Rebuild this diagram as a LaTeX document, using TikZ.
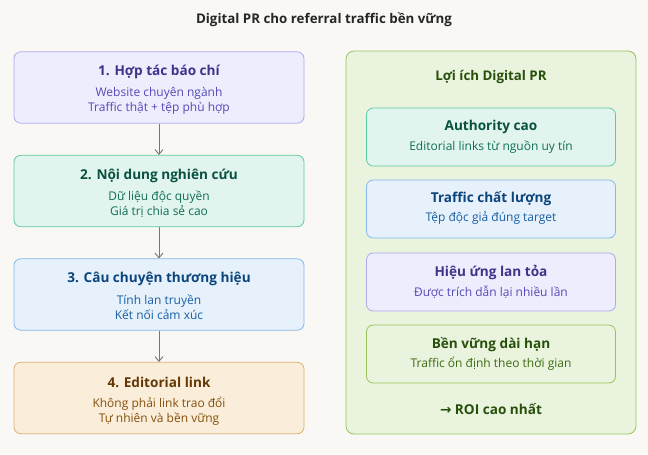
\documentclass[tikz,border=0pt]{standalone}
\usepackage{fontspec}
\setmainfont{Open Sans}
\newfontfamily\arrowfont{DejaVu Sans}
\usetikzlibrary{arrows.meta}
\definecolor{bg}{HTML}{F9F8F5}
\definecolor{pfill}{HTML}{EEEDFE}\definecolor{pdraw}{HTML}{AFA9EC}\definecolor{ptit}{HTML}{3C3489}\definecolor{psub}{HTML}{534AB7}
\definecolor{tfill}{HTML}{E1F5EE}\definecolor{tdraw}{HTML}{5DCAA5}\definecolor{ttit}{HTML}{085041}\definecolor{tsub}{HTML}{0F6E56}
\definecolor{bfill}{HTML}{E6F1FB}\definecolor{bdraw}{HTML}{85B7EB}\definecolor{btit}{HTML}{0C447C}\definecolor{bsub}{HTML}{185FA5}
\definecolor{ofill}{HTML}{FAEEDA}\definecolor{odraw}{HTML}{E0B070}\definecolor{otit}{HTML}{633806}\definecolor{osub}{HTML}{854F0B}
\definecolor{gfill}{HTML}{EAF3DE}\definecolor{gdraw}{HTML}{97C459}\definecolor{gtit}{HTML}{27500A}\definecolor{gsub}{HTML}{3B6D11}
\definecolor{arr}{HTML}{777777}
\tikzset{
  box/.style={rounded corners=5pt, line width=0.6pt, inner sep=0pt},
  lbox/.style={box, minimum width=217.5pt, minimum height=53.5pt},
  rbox/.style={box, minimum width=186.75pt, minimum height=43.5pt},
  tit/.style={font=\fontsize{10.2}{13}\selectfont\bfseries, inner sep=0pt},
  rtit/.style={font=\fontsize{10.2}{12.5}\selectfont\bfseries, inner sep=0pt},
  sub/.style={font=\fontsize{9}{11.25}\selectfont, align=center, inner sep=0pt},
  flow/.style={arr, line width=0.7pt, -{Straight Barb[length=3.5pt,width=6pt]}}
}
\begin{document}
\begin{tikzpicture}[x=0.75pt,y=-0.75pt]
\fill[bg] (0,0) rectangle (648,454);
\useasboundingbox (0,0) rectangle (648,454);
\node[font=\fontsize{10}{12}\selectfont\bfseries, text=black!85] (title) at (324,20) {Digital PR cho referral traffic bền vững};

% left column
\node[lbox, fill=pfill, draw=pdraw] (b1) at (159,87.5) {};
\node[tit, text=ptit] (b1t) at (159,72) {1. Hợp tác báo chí};
\node[sub, text=psub] (b1s) at (159,100.5) {Website chuyên ngành\\Traffic thật + tệp phù hợp};

\node[lbox, fill=tfill, draw=tdraw] (b2) at (159,191) {};
\node[tit, text=ttit] (b2t) at (159,175.5) {2. Nội dung nghiên cứu};
\node[sub, text=tsub] (b2s) at (159,204) {Dữ liệu độc quyền\\Giá trị chia sẻ cao};

\node[lbox, fill=bfill, draw=bdraw] (b3) at (159,294.5) {};
\node[tit, text=btit] (b3t) at (159,279) {3. Câu chuyện thương hiệu};
\node[sub, text=bsub] (b3s) at (159,307.5) {Tính lan truyền\\Kết nối cảm xúc};

\node[lbox, fill=ofill, draw=odraw] (b4) at (159,398) {};
\node[tit, text=otit] (b4t) at (159,382.5) {4. Editorial link};
\node[sub, text=osub] (b4s) at (159,411) {Không phải link trao đổi\\Tự nhiên và bền vững};

\draw[flow] (b1.south) -- (b2.north);
\draw[flow] (b2.south) -- (b3.north);
\draw[flow] (b3.south) -- (b4.north);

% right panel
\node[box, rounded corners=6pt, fill=gfill, draw=gdraw, minimum width=217.5pt, minimum height=287.25pt] (panel) at (491,242.5) {};
\node[font=\fontsize{10}{12.5}\selectfont\bfseries, text=gtit] (ptitle) at (491,77) {Lợi ích Digital PR};

\node[rbox, fill=tfill, draw=tdraw] (ra) at (491,137) {};
\node[rtit, text=ttit] (rat) at (491,127) {Authority cao};
\node[sub, text=tsub] (ras) at (491,147) {Editorial links từ nguồn uy tín};

\node[rbox, fill=bfill, draw=bdraw] (rb) at (491,209) {};
\node[rtit, text=btit] (rbt) at (491,199) {Traffic chất lượng};
\node[sub, text=bsub] (rbs) at (491,218.5) {Tệp độc giả đúng target};

\node[rbox, fill=pfill, draw=pdraw] (rc) at (491,282) {};
\node[rtit, text=ptit] (rct) at (491,272) {Hiệu ứng lan tỏa};
\node[sub, text=psub] (rcs) at (491,292) {Được trích dẫn lại nhiều lần};

\node[rbox, fill=gfill, draw=gdraw] (rd) at (491,354) {};
\node[rtit, text=gtit] (rdt) at (491,345) {Bền vững dài hạn};
\node[sub, text=gsub] (rds) at (491,364) {Traffic ổn định theo thời gian};

\node[font=\fontsize{10.2}{12.5}\selectfont\bfseries, text=gtit] (roi) at (491,409) {{\arrowfont→} ROI cao nhất};
\end{tikzpicture}
\end{document}
